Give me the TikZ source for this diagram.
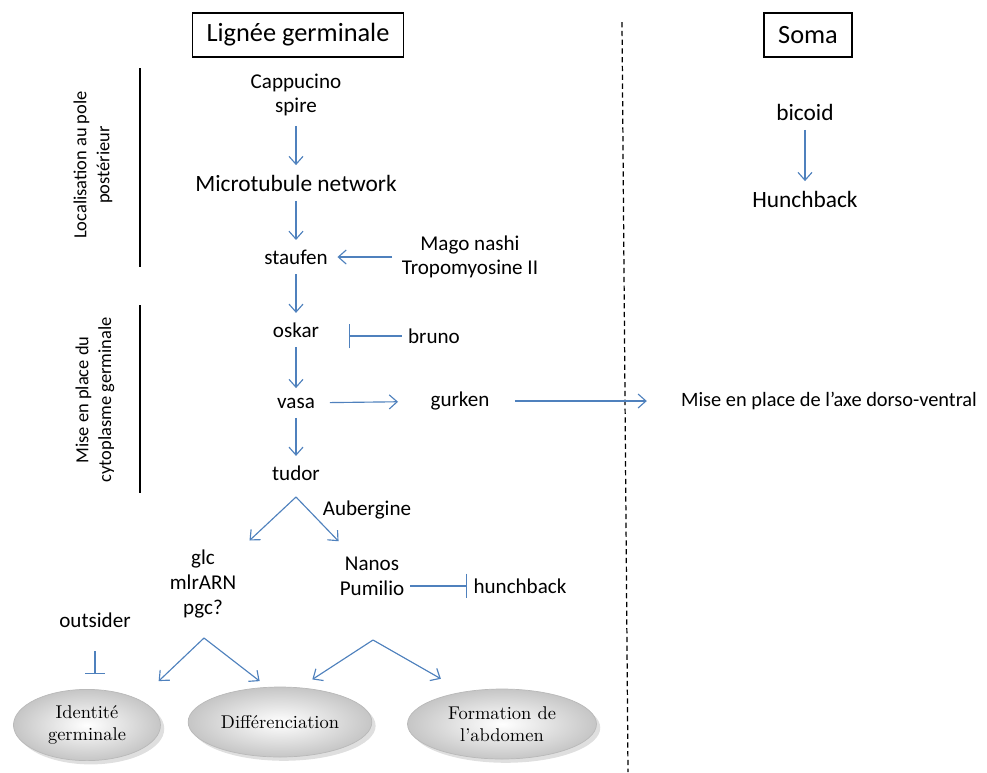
\documentclass[tikz,border=0pt]{standalone}
\usepackage{fontspec}
\setsansfont{Carlito}
\usetikzlibrary{arrows.meta,shapes.geometric,shadows,calc}
\definecolor{arrowblue}{RGB}{79,129,189}

\begin{document}
\begin{tikzpicture}[x=0.02cm, y=-0.02cm, font=\sffamily,
    lbl/.style={align=center, font=\sffamily\fontsize{12}{14}\selectfont},
    big/.style={font=\sffamily\fontsize{13.3}{16}\selectfont},
    title/.style={draw, line width=0.7pt, font=\sffamily\fontsize{15}{18}\selectfont, minimum height=0.88cm, inner xsep=8pt},
    side/.style={rotate=90, align=center, font=\sffamily\fontsize{10.5}{13}\selectfont},
    arr/.style={arrowblue, line width=0.65pt, -{Straight Barb[length=4.5pt,width=8pt]}, shorten >=2pt, shorten <=2pt},
    split/.style={arr, shorten >=0pt, shorten <=0pt},
    inh/.style={arrowblue, line width=0.65pt, -{Bar[width=14pt]}},
    oval/.style={ellipse, align=center, minimum height=1.4cm, inner color=white, outer color=gray!45, draw=gray!55, drop shadow={opacity=0.25}, font=\rmfamily\fontsize{10.5}{12.5}\selectfont}]
    \useasboundingbox (0,0) rectangle (987,772);

    % titres
    \node[title] (germ) at (298,35) {Lignée germinale};
    \node[title] (soma) at (808,35) {Soma};

    % lignee germinale
    \node[lbl] (cap) at (296,95) {Cappucino\\spire};
    \node[big] (micro) at (296,183) {Microtubule network};
    \node[lbl] (stau) at (296,257) {staufen};
    \node[lbl] (mago) at (470,257) {Mago nashi\\Tropomyosine II};
    \node[lbl] (oskar) at (296,330) {oskar};
    \node[lbl] (bruno) at (434,336) {bruno};
    \node[lbl] (vasa) at (296,403) {vasa};
    \node[lbl] (gurk) at (460,401) {gurken};
    \node[lbl, font=\sffamily\fontsize{11.6}{14}\selectfont] (axe) at (829,401) {Mise en place de l’axe dorso-ventral};
    \node[lbl] (tudor) at (296,473) {tudor};
    \node[lbl] (auber) at (367,510) {Aubergine};
    \node[lbl] (glc) at (203,584) {glc\\mlrARN\\pgc?};
    \node[lbl] (nanos) at (372,576) {Nanos\\Pumilio};
    \node[lbl] (hunch) at (520,586) {hunchback};
    \node[lbl] (outs) at (95,620) {outsider};

    % soma
    \node[big] (bicoid) at (805,112) {bicoid};
    \node[big] (hunchb) at (805,199) {Hunchback};

    % phenotypes
    \node[oval, minimum width=2.94cm] (ident) at (87,725) {Identité\\germinale};
    \node[oval, minimum width=3.3cm] (diff) at (280,722) {Différenciation};
    \node[oval, minimum width=3.78cm] (form) at (502,724) {Formation de\\l'abdomen};

    % etapes
    \node[side] (loc) at (93,165) {Localisation au pole\\postérieur};
    \node[side] (mise) at (95,400) {Mise en place du\\cytoplasme germinale};
    \draw[line width=0.8pt] (140,68) -- (140,267);
    \draw[line width=0.8pt] (140,305) -- (140,493);
    \draw[line width=0.7pt, dash pattern=on 3pt off 2pt] (622,22) -- (628,772);

    \draw[arr] (cap) -- (micro);
    \draw[arr] (micro) -- (stau);
    \draw[arr] (mago) -- (stau);
    \draw[arr] (stau) -- (oskar);
    \draw[inh, shorten >=13.5pt] (bruno) -- (bruno -| oskar.east);
    \draw[arr] (oskar) -- (vasa);
    \draw[arr, shorten <=5pt, shorten >=15pt] (vasa) -- (gurk);
    \draw[arr, shorten <=11pt, shorten >=16pt] (gurk) -- (axe);
    \draw[arr] (vasa) -- (tudor);
    \draw[arr] (bicoid) -- (hunchb);

    \coordinate (tsplit) at (296,497);
    \draw[split] (tsplit) -- ($(tsplit)!.5!(glc)$);
    \draw[split] (tsplit) -- ($(tsplit)!.56!(nanos)$);
    \draw[inh] (hunch -| nanos.east) -- (hunch);

    \coordinate (gsplit) at (204,638);
    \draw[split] (gsplit) -- ($(gsplit)!.7!(ident.north east)$);
    \draw[split] (gsplit) -- ($(gsplit)!.88!(diff.110)$);
    \coordinate (nsplit) at (373,640);
    \draw[split] (nsplit) -- ($(nsplit)!.83!(diff.60)$);
    \draw[split] (nsplit) -- ($(nsplit)!.75!(form.140)$);
    \draw[inh, -{Bar[width=11pt]}, shorten <=10pt, shorten >=8.5pt] (outs) -- (outs |- ident.north);
\end{tikzpicture}
\end{document}
